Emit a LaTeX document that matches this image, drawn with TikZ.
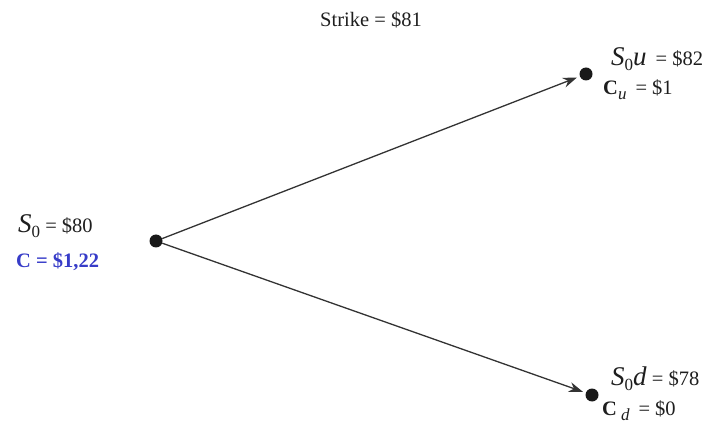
\documentclass[tikz,border=0pt]{standalone}
\usepackage{fontspec}
\setmainfont{Liberation Serif}
\usetikzlibrary{arrows.meta}
\definecolor{cblue}{RGB}{55,60,200}
\definecolor{txt}{RGB}{30,30,30}
\newcommand{\bigS}{{\fontsize{27}{30}\selectfont\textit{S}}}
\newcommand{\bigit}[1]{{\fontsize{27}{30}\selectfont\textit{#1}}}
\newcommand{\lowsub}[1]{\raisebox{-5pt}{\fontsize{17}{20}\selectfont #1}}
\begin{document}
\begin{tikzpicture}[x=1pt,y=1pt,
  dot/.style={circle,fill=black!90,inner sep=0pt,minimum size=13pt},
  lbl/.style={inner sep=0pt,anchor=base west,text=txt,font=\fontsize{20.5}{24}\selectfont},
  conn/.style={draw=black!80,line width=1.3pt,-{Stealth[length=14pt,width=10pt]},shorten >=3pt}]
\useasboundingbox (0,0) rectangle (711,423);
\node[dot] (a) at (156,182) {};
\node[dot] (u) at (586,349) {};
\node[dot] (d) at (592,28) {};
\draw[conn] (a) -- (u);
\draw[conn] (a) -- (d);
\node[lbl,anchor=base] (k) at (371,396) {Strike = \$81};
\node[lbl] (s0) at (18,190) {\bigS\lowsub{0} = \$80};
\node[lbl,text=cblue] (c0) at (16,155) {\textbf{C = \$1,22}};
\node[lbl] (su) at (611,357) {\bigS\lowsub{0}\bigit{u}\hspace{9pt}= \$82};
\node[lbl] (cu) at (603,328) {\textbf{C}\lowsub{\textit{u}}\hspace{9pt}= \$1};
\node[lbl] (sd) at (611,38) {\bigS\lowsub{0}\bigit{d} = \$78};
\node[lbl] (cd) at (602,8) {\textbf{C}\hspace{4pt}\lowsub{\textit{d}}\hspace{9pt}= \$0};
\end{tikzpicture}
\end{document}
